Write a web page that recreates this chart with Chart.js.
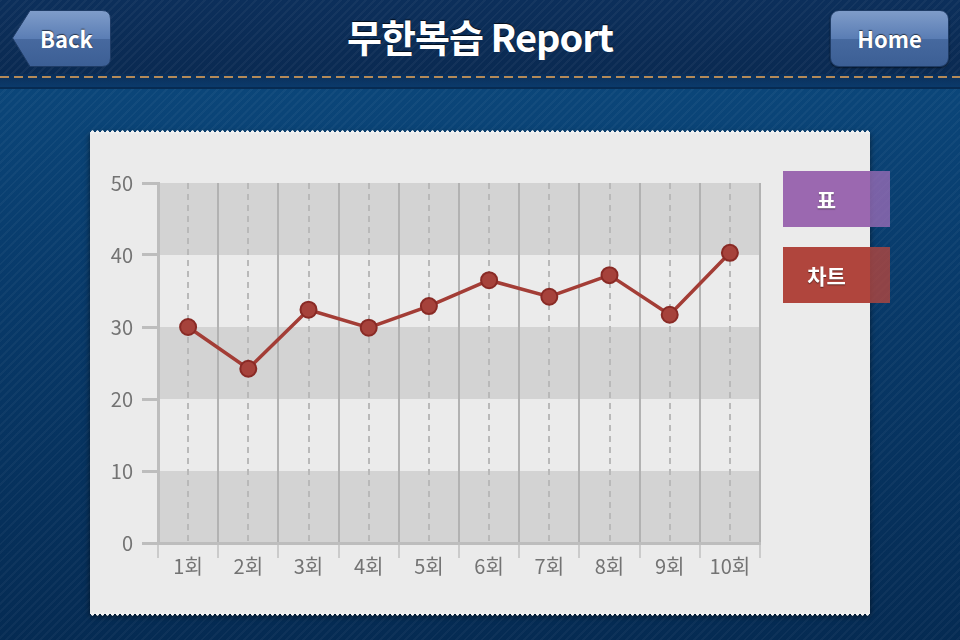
<!DOCTYPE html>
<html>
<head>
<meta charset="utf-8">
<script src="https://cdn.jsdelivr.net/npm/chart.js@4.4.1/dist/chart.umd.min.js"></script>
<style>
html, body { margin: 0; padding: 0; }
body {
    width: 960px; height: 640px; overflow: hidden; position: relative;
    font-family: "Noto Sans CJK KR", "Noto Sans", sans-serif;
    background:
        repeating-linear-gradient(135deg, rgba(255,255,255,0.035) 0 2px, rgba(0,0,0,0) 2px 6px),
        linear-gradient(#0c4b80, #083a6a 45%, #052b53);
}
#header {
    position: absolute; left: 0; top: 0; width: 960px; height: 74px;
    background:
        repeating-linear-gradient(135deg, rgba(255,255,255,0.04) 0 2px, rgba(0,0,0,0) 2px 6px),
        linear-gradient(#0c2f5b, #0a2a52);
    box-shadow: 0 2px 3px rgba(0,0,0,0.6);
}
#strip {
    position: absolute; left: 0; top: 74px; width: 960px; height: 13px;
    background: linear-gradient(#0a2f5a, #0b3a6b);
    border-bottom: 2px solid #072b52;
}
#stitch {
    position: absolute; left: 0; top: 76px; width: 960px; height: 2px;
    background: repeating-linear-gradient(90deg, #b48a58 0 9px, rgba(0,0,0,0) 9px 14px);
}
#title {
    position: absolute; left: 0; top: 8px; width: 960px; text-align: center;
    color: #fff; font-size: 38px; font-weight: bold; letter-spacing: -1px;
    text-shadow: 0 -1px 1px rgba(0,0,0,0.7);
}
.btn-text {
    position: absolute; color: #fff; font-weight: bold; font-size: 22px;
    text-shadow: 0 -1px 1px rgba(0,0,0,0.6);
}
#home {
    position: absolute; left: 830px; top: 10px; width: 117px; height: 55px;
    border-radius: 9px; border: 1px solid #1f3c66;
    background: linear-gradient(#7f9cc9, #5a7db4 50%, #46699f 51%, #3c5f95);
    box-shadow: 0 1px 2px rgba(0,0,0,0.5);
}
#card {
    position: absolute; left: 90px; top: 132px; width: 780px; height: 482px;
    background: #ebebeb;
    box-shadow: 0 2px 6px rgba(0,0,0,0.55);
}
#card::before, #card::after {
    content: ""; position: absolute; left: 0; width: 780px; height: 4px;
    background: radial-gradient(circle, #f2f2f2 1.4px, rgba(0,0,0,0) 1.9px) 0 0 / 5px 4px repeat-x;
}
#card::before { top: -2px; }
#card::after { bottom: -2px; }
.tab {
    position: absolute; left: 783px; width: 107px; height: 56px;
    color: #fff; font-weight: bold; font-size: 21px;
    text-align: center; line-height: 56px; padding-right: 20px; box-sizing: border-box;
    text-shadow: 0 1px 1px rgba(0,0,0,0.5);
}
#tab1 { top: 171px; background: linear-gradient(90deg, #9b68b0 0 87px, rgba(160,110,185,0.75) 87px); }
#tab2 { top: 247px; background: linear-gradient(90deg, #b0453d 0 87px, rgba(178,70,62,0.8) 87px); }
canvas { position: absolute; left: 0; top: 0; }
</style>
</head>
<body>
<div id="header"></div>
<div id="strip"></div>
<div id="stitch"></div>
<svg style="position:absolute;left:0;top:0" width="130" height="80">
  <defs>
    <linearGradient id="bg" x1="0" y1="0" x2="0" y2="1">
      <stop offset="0" stop-color="#809dca"/>
      <stop offset="0.5" stop-color="#5b7eb5"/>
      <stop offset="0.51" stop-color="#47699f"/>
      <stop offset="1" stop-color="#3c5f95"/>
    </linearGradient>
  </defs>
  <path d="M12.5 38 L30 10.5 L102 10.5 Q110.5 10.5 110.5 19 L110.5 58 Q110.5 66.5 102 66.5 L30 66.5 Z"
        fill="url(#bg)" stroke="#1f3c66" stroke-width="1"/>
</svg>
<div class="btn-text" style="left:40px;top:22px;">Back</div>
<div id="home"></div>
<div class="btn-text" style="left:830px;top:22px;width:119px;text-align:center;">Home</div>
<div id="title">무한복습 Report</div>

<div id="card">
    <canvas id="myChart" width="780" height="482"></canvas>
</div>
<div class="tab" id="tab1">표</div>
<div class="tab" id="tab2">차트</div>

<script>
// data
var labels = ["1회", "2회", "3회", "4회", "5회", "6회", "7회", "8회", "9회", "10회"];
var scores = [30.0, 24.2, 32.4, 29.9, 32.9, 36.5, 34.2, 37.2, 31.7, 40.3];
var yTicks = [0, 10, 20, 30, 40, 50];
var bandRanges = [[40, 50], [20, 30], [0, 10]];

Chart.defaults.font.family = '"Noto Sans CJK KR", "Noto Sans", sans-serif';

// grey stripes behind the grid
var bandPlugin = {
    id: "bands",
    beforeDraw: function (chart) {
        var ctx = chart.ctx;
        var area = chart.chartArea;
        var y = chart.scales.y;
        ctx.save();
        ctx.fillStyle = "#d3d3d3";
        bandRanges.forEach(function (r) {
            var top = y.getPixelForValue(r[1]);
            var bot = y.getPixelForValue(r[0]);
            ctx.fillRect(area.left, top, area.right - area.left, bot - top);
        });
        ctx.restore();
    },
};

var myChart = document.getElementById("myChart").getContext("2d");
var chart = new Chart(myChart, {
    type: "line",
    data: {
        labels: labels,
        datasets: [
            {
                label: "점수",
                data: scores,
                borderColor: "#a33d36",
                borderWidth: 3.5,
                pointRadius: 8,
                pointBackgroundColor: "#a6423b",
                pointBorderColor: "#892a25",
                pointBorderWidth: 2,
                tension: 0,
            },
        ],
    },
    options: {
        responsive: false,
        animation: false,
        devicePixelRatio: 1,
        layout: { padding: { top: 51, right: 110, left: 0, bottom: 0 } },
        plugins: { legend: { display: false }, tooltip: { enabled: false } },
        scales: {
            x: {
                offset: true,
                grid: {
                    offset: true,
                    lineWidth: 2,
                    tickLength: 15,
                    color: function (c) {
                        return c.index === labels.length ? "rgba(0,0,0,0)" : "#b2b2b2";
                    },
                    tickColor: "#cbcbcb",
                },
                border: { color: "#bdbdbd", width: 3 },
                ticks: { color: "#737373", font: { size: 20 }, padding: -4 },
                afterFit: function (s) { s.height = 71; },
            },
            x2: {
                type: "category",
                position: "bottom",
                offset: true,
                grid: { offset: false, lineWidth: 2, color: "#b9b9b9", drawTicks: false },
                border: { display: false, dash: [6, 5] },
                ticks: { display: false },
                afterFit: function (s) { s.height = 0; },
            },
            y: {
                min: 0,
                max: 50,
                afterBuildTicks: function (s) {
                    s.ticks = yTicks.map(function (v) { return { value: v }; });
                },
                grid: { drawOnChartArea: false, tickLength: 16, lineWidth: 3, color: "#bdbdbd" },
                border: { color: "#bdbdbd", width: 3 },
                ticks: { color: "#737373", font: { size: 20 }, padding: 9 },
                afterFit: function (s) { s.width = 68; },
            },
        },
    },
    plugins: [bandPlugin],
});
</script>
</body>
</html>
